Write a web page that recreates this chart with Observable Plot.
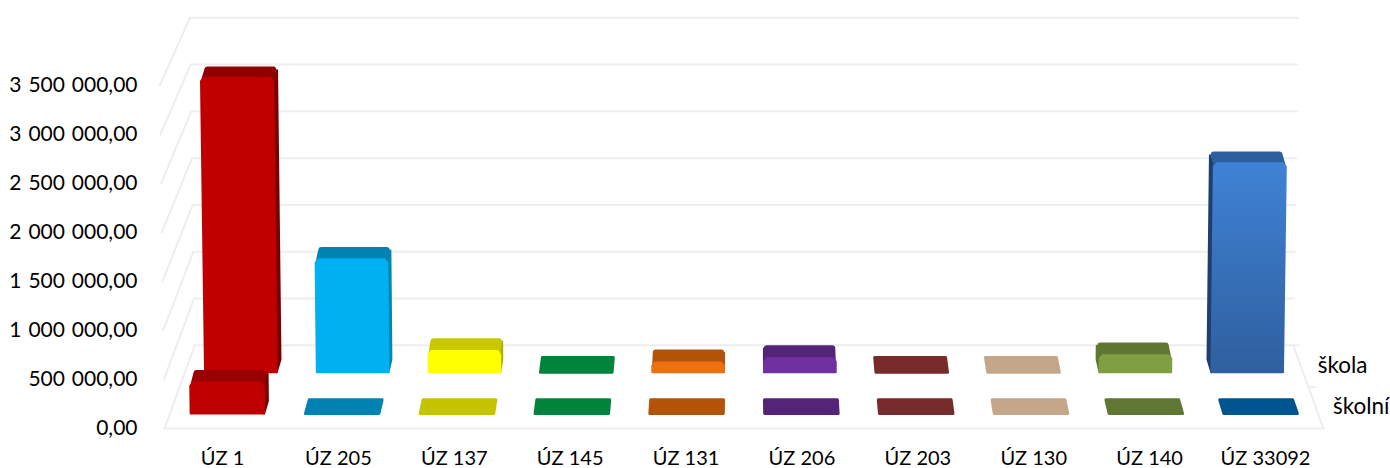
<!DOCTYPE html>
<html>
<head>
<meta charset="utf-8">
<script src="https://cdn.jsdelivr.net/npm/d3@7"></script>
<script src="https://cdn.jsdelivr.net/npm/@observablehq/plot@0.6"></script>
<style>html,body{margin:0;padding:0;background:#fff}svg{display:block}
g[aria-label="y-axis tick label"] text{word-spacing:1.5px}</style>
</head>
<body>
<div id="chart"></div>
<script>
const categories = ["ÚZ 1","ÚZ 205","ÚZ 137","ÚZ 145","ÚZ 131","ÚZ 206","ÚZ 203","ÚZ 130","ÚZ 140","ÚZ 33092"];
const skola = [3100000,1190000,225000,0,105000,150000,0,0,180000,2200000];
const skolni = [320000,0,0,0,0,0,0,0,0,0];
const rowNames = ["škola","školní"];
const yTicks = [0,500000,1000000,1500000,2000000,2500000,3000000,3500000];

const frontColors = ["#C00000","#00B0F0","#FFFF00","#00B050","#ED7110","#7030A0","#9B3A37","#C9AE95","#7F9F42","url(#blueFront)"];
const topColors   = ["#900000","#0083B3","#C8C800","#00843C","#B25309","#542478","#772B2B","#C4A68B","#5F7732","#2C5F9E"];
const frontRowTop = ["#9A0000","#0083B3","#C4C400","#00843C","#B25309","#542478","#772B2B","#C4A68B","#5F7732","#00548F"];
const sideColors  = ["#7A0000","#0085B5","#B0B000","#00843C","#B25309","#4A2070","#772B2B","#C4A68B","#5F7732","#1F3F6E"];

// oblique projection of (category, value, depth) into the chart's x / y data units
const proj = (u, v, d) => ({
  x: 4.5 + (u - 4.5) * (1 - 0.052 * d) * (1 + 0.0085 * v / 3500000),
  y: v * (1 - 0.045 * d) + d * 848670
});

const halfWidth = 0.32;
const polys = [];
const addPoly = (id, fill, sw, pts) => pts.forEach(p => {
  const q = proj(p[0], p[1], p[2]);
  polys.push({id, fill, sw, x: q.x, y: q.y});
});
const addBar = (key, u, v, d1, d2, dTall, front, top, side) => {
  const l = u - halfWidth, r = u + halfWidth, sx = u < 4.5 ? r : l;
  if (v > 0) {
    const e = 0.026, n = 35000, dt = 0.036;
    const sideTop = Math.max(v - n, 0);
    addPoly(key + "s", side, 2, [[sx,0,d1],[sx,0,dTall],[sx,sideTop,dTall],[sx,sideTop,d1]]);
    addPoly(key + "t", top, 6, [[l+e,v-n,d1],[r-e,v-n,d1],[r-e,v,dTall-dt],[l+e,v,dTall-dt]]);
    addPoly(key + "f", front, 2, [[l,0,d1],[r,0,d1],[r,v-n,d1],[r-e,v,d1],[l+e,v,d1],[l,v-n,d1]]);
  } else {
    addPoly(key + "t", top, 3, [[l,v,d1],[r,v,d1],[r,v,d2],[l,v,d2]]);
  }
};
categories.forEach((c, i) => addBar("b" + i, i, skola[i], 0.675, 0.855, 0.83, frontColors[i], topColors[i], sideColors[i]));
categories.forEach((c, i) => addBar("f" + i, i, skolni[i], 0.18, 0.345, 0.33, frontColors[i], frontRowTop[i], sideColors[i]));

const grid = [];
const addSeg = (id, a, b) => [a, b].forEach(p => grid.push({id, ...proj(p[0], p[1], p[2])}));
yTicks.forEach(v => {
  addSeg("w" + v, [-0.5, v, 1], [9.5, v, 1]);
  addSeg("l" + v, [-0.5, v, 0], [-0.5, v, 1]);
});
addSeg("front", [-0.5, 0, 0], [9.5, 0, 0]);
addSeg("right", [9.5, 0, 0], [9.5, 0, 1]);
addSeg("t1", [9.5, 0, 1], [9.55, 0, 1]);
addSeg("t2", [9.5, 0, 0.5], [9.56, 0, 0.5]);

const labels = rowNames.map((name, i) => ({name, ...proj(9.63, 0, i === 0 ? 0.675 : 0.18)}));
const fmt = v => d3.format(",.2f")(v).replace(/,/g, " ").replace(".", ",");
const font = "Lato, 'Noto Sans', sans-serif";

const defs = () => {
  const s = d3.create("svg:defs");
  const g = s.append("linearGradient").attr("id", "blueFront").attr("x1", 0).attr("x2", 0).attr("y1", 0).attr("y2", 1);
  g.append("stop").attr("offset", 0).attr("stop-color", "#3F82D6");
  g.append("stop").attr("offset", 1).attr("stop-color", "#2F5F9E");
  return s.node();
};

const chart = Plot.plot({
  width: 1390, height: 468,
  marginLeft: 140, marginRight: 60, marginTop: 10, marginBottom: 40,
  x: {type: "linear", domain: [0, 9], range: [222, 1265]},
  y: {type: "linear", domain: [0, 3500000], range: [428, 85]},
  color: {type: "identity"},
  style: {fontFamily: font, fontSize: "20px", color: "#000", background: "#fff"},
  marks: [
    defs,
    Plot.line(grid, {x: "x", y: "y", z: "id", stroke: "#EEEEEE", strokeWidth: 2}),
    Plot.line(polys, {x: "x", y: "y", z: "id", fill: "fill", stroke: "fill", strokeWidth: "sw", strokeLinejoin: "round", curve: "linear-closed"}),
    Plot.axisY({ticks: yTicks, tickSize: 0, tickPadding: 3, tickFormat: fmt, fontSize: 21, fill: "#000", label: null}),
    Plot.axisX({ticks: d3.range(categories.length), tickSize: 0, tickPadding: 22, tickFormat: i => categories[i], fontSize: 20, fill: "#000", label: null}),
    Plot.text(labels, {x: "x", y: "y", text: "name", textAnchor: "start", dy: -7, fontSize: 22.5, fill: "#000"})
  ]
});
document.getElementById("chart").append(chart);
</script>
</body>
</html>
